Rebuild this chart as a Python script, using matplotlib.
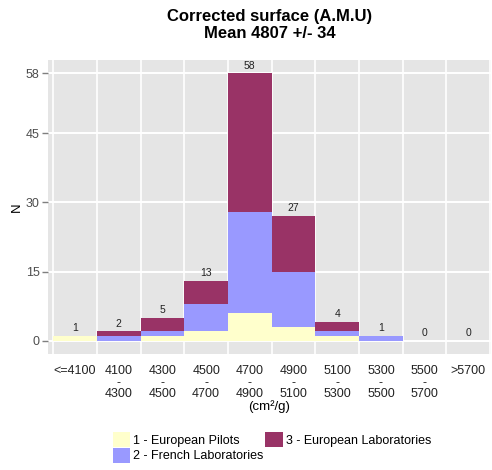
import numpy as np
import matplotlib
matplotlib.use("Agg")
import matplotlib.pyplot as plt

plt.rcParams['font.family'] = ['Liberation Sans', 'DejaVu Sans']

# bins (cm²/g)
categories = ["<=4100", "4100\n-\n4300", "4300\n-\n4500", "4500\n-\n4700",
              "4700\n-\n4900", "4900\n-\n5100", "5100\n-\n5300",
              "5300\n-\n5500", "5500\n-\n5700", ">5700"]
european_pilots = [1, 0, 1, 2, 6, 3, 1, 0, 0, 0]
french_labs = [0, 1, 1, 6, 22, 12, 1, 1, 0, 0]
european_labs = [0, 1, 3, 5, 30, 12, 2, 0, 0, 0]
series_names = ["1 - European Pilots", "2 - French Laboratories", "3 - European Laboratories"]
series_colors = ["#FFFFCC", "#9999FF", "#993366"]
y_ticks = [0, 15, 30, 45, 58]

fig = plt.figure(figsize=(4.92, 4.70), dpi=100)
ax = fig.add_axes([48 / 492, 1 - 354 / 470, 443 / 492, 294 / 470])
ax.set_facecolor("#E5E5E5")

x = np.arange(1, len(categories) + 1)
bottom = np.zeros(len(categories))
for vals, name, col in zip([european_pilots, french_labs, european_labs], series_names, series_colors):
    ax.bar(x, vals, width=1.0, bottom=bottom, color=col, label=name,
           linewidth=0, zorder=3)
    bottom += np.array(vals)

for xi, tot in zip(x, bottom):
    ax.annotate(f"{int(tot)}", (xi, tot), xytext=(0, 2), textcoords="offset points",
                ha="center", va="bottom", fontsize=7.5, color="#222222", zorder=4)

ax.set_xlim(0.38, 10.52)
ax.set_ylim(-2.9, 60.9)
ax.set_xticks(x)
ax.set_xticklabels(categories, fontsize=9, color="#222222", linespacing=0.95)
ax.set_xticks(np.arange(0.5, 11, 1.0), minor=True)
ax.set_yticks(y_ticks)
ax.set_yticklabels([str(v) for v in y_ticks], fontsize=9, color="#4D4D4D")
ax.tick_params(axis="x", which="both", length=0, pad=8)
ax.tick_params(axis="y", length=4, color="#7F7F7F", width=1, pad=2)

ax.grid(which="minor", axis="x", color="white", linewidth=1.2, zorder=0)
ax.grid(which="major", axis="y", color="white", linewidth=1.4, zorder=0)
ax.grid(which="major", axis="x", visible=False)
ax.set_axisbelow(True)
for s in ax.spines.values():
    s.set_visible(False)

ax.set_xlabel("(cm²/g)", fontsize=9.5, labelpad=0)
ax.set_ylabel("N", fontsize=9.5, labelpad=2)
ax.set_title("Corrected surface (A.M.U)\nMean 4807 +/- 34", fontsize=12,
             fontweight="bold", pad=16, linespacing=1.15)

leg = fig.legend(loc="lower left", bbox_to_anchor=(105 / 492, 0.0), ncol=2,
                 frameon=False, fontsize=9, handlelength=1.4, handleheight=1.4,
                 handletextpad=0.25, columnspacing=0.15, labelspacing=0.1,
                 borderaxespad=0.2)

fig.savefig("out.png", dpi=100)
